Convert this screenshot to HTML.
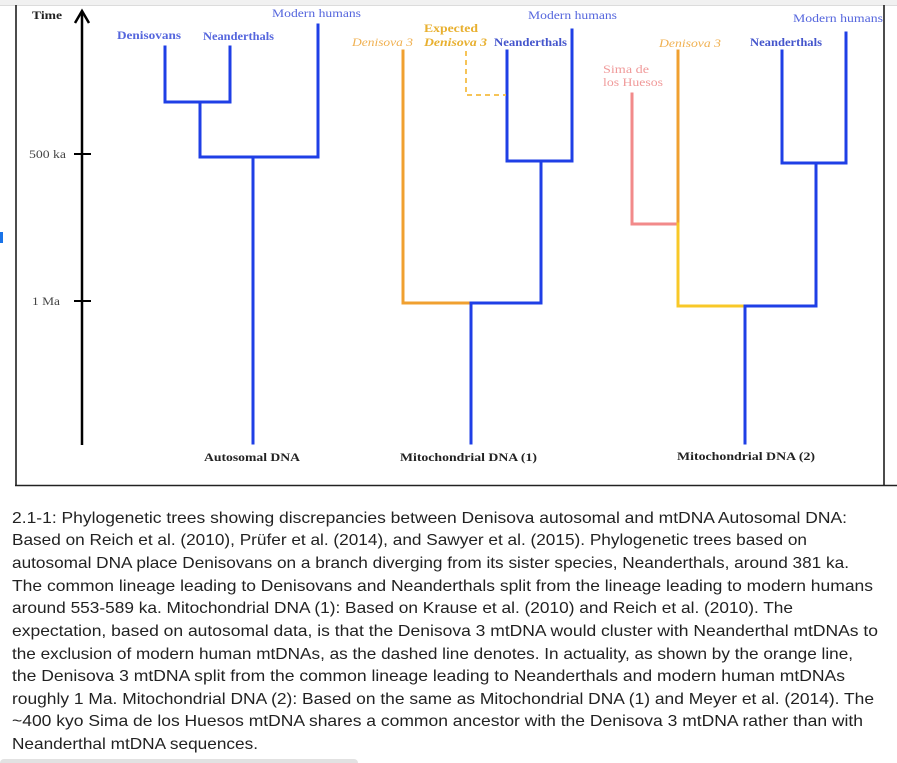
<!DOCTYPE html>
<html><head><meta charset="utf-8"><style>
html,body{margin:0;padding:0;background:#fff;width:897px;height:763px;overflow:hidden}
svg{display:block}
.lb{font-family:"Liberation Serif",serif;font-size:12px;font-weight:bold}
.cap{font-family:"Liberation Sans",sans-serif;font-size:16px;fill:#222}
</style></head><body>
<svg width="897" height="763" viewBox="0 0 897 763" xmlns="http://www.w3.org/2000/svg">
<rect x="0" y="0" width="897" height="5" fill="#f1f1f1"/>
<line x1="0" y1="5.5" x2="897" y2="5.5" stroke="#dcdcdc" stroke-width="1"/>
<!-- frame -->
<line x1="16" y1="5" x2="16" y2="486" stroke="#111" stroke-width="1.5"/>
<line x1="884" y1="5" x2="884" y2="486" stroke="#111" stroke-width="1.5"/>
<line x1="15" y1="485.5" x2="897" y2="485.5" stroke="#222" stroke-width="1.5"/>
<rect x="0" y="232" width="3" height="11" fill="#1a73e8"/>
<!-- time axis -->
<line x1="82" y1="11" x2="82" y2="445" stroke="#000" stroke-width="2.5"/>
<polyline points="75,23 82,11 89,23" fill="none" stroke="#000" stroke-width="2.5"/>
<line x1="74" y1="154" x2="91" y2="154" stroke="#000" stroke-width="2"/>
<line x1="74" y1="301" x2="91" y2="301" stroke="#000" stroke-width="2"/>
<text class="lb" x="32" y="19" fill="#222" textLength="30" lengthAdjust="spacingAndGlyphs">Time</text>
<text class="lb" x="29" y="158" fill="#444" style="font-weight:normal" textLength="37" lengthAdjust="spacingAndGlyphs">500 ka</text>
<text class="lb" x="32" y="305" fill="#444" style="font-weight:normal" textLength="28" lengthAdjust="spacingAndGlyphs">1 Ma</text>

<g fill="none" stroke-width="3" stroke-linecap="square">
<!-- autosomal -->
<polyline points="165,47 165,102 230,102 230,47" stroke="#1f3fe6"/>
<line x1="200" y1="102" x2="200" y2="157" stroke="#1f3fe6"/>
<polyline points="200,157 318,157 318,25" stroke="#1f3fe6"/>
<line x1="253" y1="157" x2="253" y2="443" stroke="#1f3fe6"/>
<!-- mito 1 -->
<polyline points="403,51 403,303 471,303" stroke="#f0a030"/>
<polyline points="471,303 541,303 541,161" stroke="#1f3fe6"/>
<polyline points="507,51 507,161 572,161 572,30" stroke="#1f3fe6"/>
<line x1="471" y1="303" x2="471" y2="443" stroke="#1f3fe6"/>
<!-- mito 2 -->
<polyline points="632,94 632,224 678,224" stroke="#f28a8a"/>
<line x1="678" y1="51" x2="678" y2="224" stroke="#f0a030"/>
<polyline points="678,224 678,306 745,306" stroke="#f8c828"/>
<polyline points="745,306 816,306 816,163" stroke="#1f3fe6"/>
<polyline points="782,51 782,163 846,163 846,33" stroke="#1f3fe6"/>
<line x1="745" y1="306" x2="745" y2="443" stroke="#1f3fe6"/>
</g>
<polyline points="466,51 466,95 506,95" fill="none" stroke="#f6c458" stroke-width="2" stroke-dasharray="5,4"/>

<!-- labels -->
<text class="lb" x="117" y="39" fill="#5566dd" textLength="64" lengthAdjust="spacingAndGlyphs">Denisovans</text>
<text class="lb" x="203" y="40" fill="#5566dd" textLength="71" lengthAdjust="spacingAndGlyphs">Neanderthals</text>
<text class="lb" x="272" y="17" fill="#5566dd" style="font-weight:normal" textLength="89" lengthAdjust="spacingAndGlyphs">Modern humans</text>

<text class="lb" x="352" y="46" fill="#f0b050" style="font-style:italic;font-weight:normal" textLength="61" lengthAdjust="spacingAndGlyphs">Denisova 3</text>
<text class="lb" x="424" y="32" fill="#e8b030" textLength="54" lengthAdjust="spacingAndGlyphs">Expected</text>
<text class="lb" x="424" y="46" fill="#e8b030" style="font-style:italic" textLength="63" lengthAdjust="spacingAndGlyphs">Denisova 3</text>
<text class="lb" x="494" y="46" fill="#4455cc" textLength="73" lengthAdjust="spacingAndGlyphs">Neanderthals</text>
<text class="lb" x="528" y="19" fill="#5566dd" style="font-weight:normal" textLength="89" lengthAdjust="spacingAndGlyphs">Modern humans</text>

<text class="lb" x="659" y="47" fill="#f0b050" style="font-style:italic;font-weight:normal" textLength="62" lengthAdjust="spacingAndGlyphs">Denisova 3</text>
<text class="lb" x="603" y="73" fill="#f09a9a" style="font-weight:normal" textLength="46" lengthAdjust="spacingAndGlyphs">Sima de</text>
<text class="lb" x="603" y="86" fill="#f09a9a" style="font-weight:normal" textLength="60" lengthAdjust="spacingAndGlyphs">los Huesos</text>
<text class="lb" x="750" y="46" fill="#4455cc" textLength="72" lengthAdjust="spacingAndGlyphs">Neanderthals</text>
<text class="lb" x="793" y="22" fill="#5566dd" style="font-weight:normal" textLength="90" lengthAdjust="spacingAndGlyphs">Modern humans</text>

<text class="lb" x="204" y="461" fill="#222" textLength="96" lengthAdjust="spacingAndGlyphs">Autosomal DNA</text>
<text class="lb" x="400" y="461" fill="#222" textLength="137" lengthAdjust="spacingAndGlyphs">Mitochondrial DNA (1)</text>
<text class="lb" x="677" y="460" fill="#222" textLength="138" lengthAdjust="spacingAndGlyphs">Mitochondrial DNA (2)</text>

<!-- caption -->
<g class="cap">
<text x="12" y="523" textLength="835" lengthAdjust="spacingAndGlyphs">2.1-1: Phylogenetic trees showing discrepancies between Denisova autosomal and mtDNA Autosomal DNA:</text>
<text x="12" y="545" textLength="795" lengthAdjust="spacingAndGlyphs">Based on Reich et al. (2010), Prüfer et al. (2014), and Sawyer et al. (2015). Phylogenetic trees based on</text>
<text x="12" y="568" textLength="837" lengthAdjust="spacingAndGlyphs">autosomal DNA place Denisovans on a branch diverging from its sister species, Neanderthals, around 381 ka.</text>
<text x="12" y="591" textLength="861" lengthAdjust="spacingAndGlyphs">The common lineage leading to Denisovans and Neanderthals split from the lineage leading to modern humans</text>
<text x="12" y="613" textLength="781" lengthAdjust="spacingAndGlyphs">around 553-589 ka. Mitochondrial DNA (1): Based on Krause et al. (2010) and Reich et al. (2010). The</text>
<text x="12" y="636" textLength="866" lengthAdjust="spacingAndGlyphs">expectation, based on autosomal data, is that the Denisova 3 mtDNA would cluster with Neanderthal mtDNAs to</text>
<text x="12" y="659" textLength="841" lengthAdjust="spacingAndGlyphs">the exclusion of modern human mtDNAs, as the dashed line denotes. In actuality, as shown by the orange line,</text>
<text x="12" y="681" textLength="833" lengthAdjust="spacingAndGlyphs">the Denisova 3 mtDNA split from the common lineage leading to Neanderthals and modern human mtDNAs</text>
<text x="12" y="704" textLength="862" lengthAdjust="spacingAndGlyphs">roughly 1 Ma. Mitochondrial DNA (2): Based on the same as Mitochondrial DNA (1) and Meyer et al. (2014). The</text>
<text x="12" y="726" textLength="851" lengthAdjust="spacingAndGlyphs">~400 kyo Sima de los Huesos mtDNA shares a common ancestor with the Denisova 3 mtDNA rather than with</text>
<text x="12" y="749" textLength="246" lengthAdjust="spacingAndGlyphs">Neanderthal mtDNA sequences.</text>
</g>
<rect x="0" y="759" width="358" height="8" rx="4" fill="#e2e2e2"/>
</svg>
</body></html>
